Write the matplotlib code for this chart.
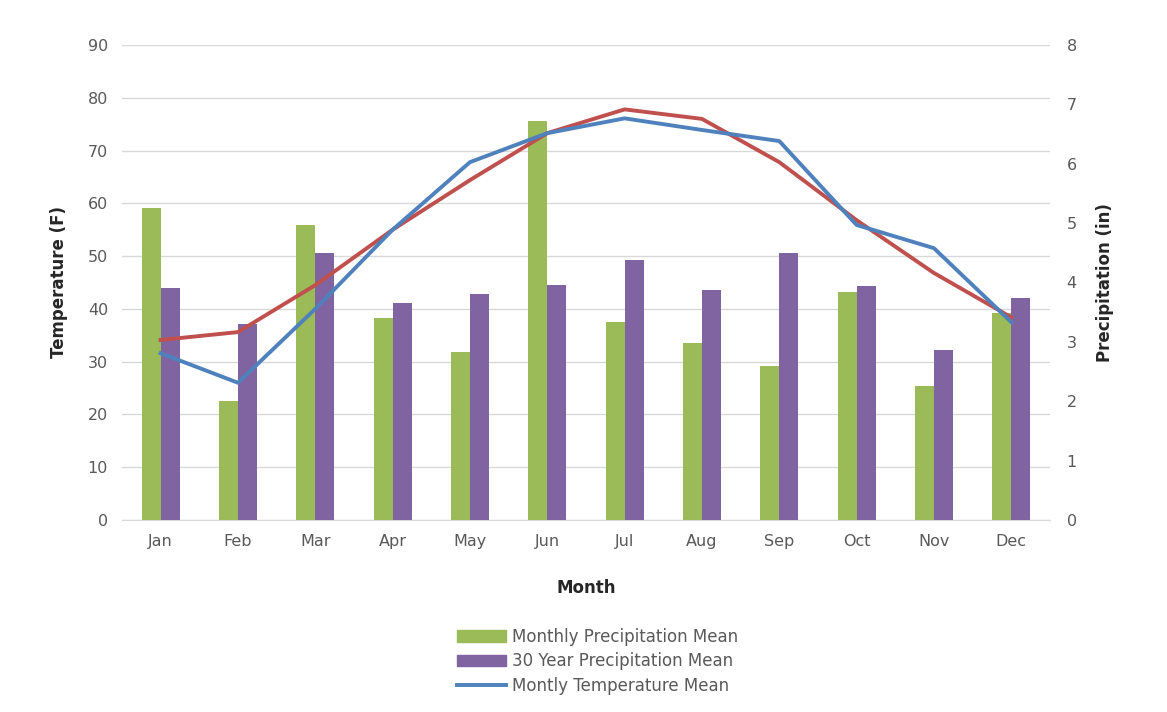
import matplotlib.pyplot as plt
from matplotlib.patches import Patch
from matplotlib.lines import Line2D
import numpy as np

# Data
months = ['Jan', 'Feb', 'Mar', 'Apr', 'May', 'Jun', 'Jul', 'Aug', 'Sep', 'Oct', 'Nov', 'Dec']
monthly_precip = [5.25, 2.0, 4.97, 3.4, 2.83, 6.72, 3.33, 2.98, 2.6, 3.84, 2.25, 3.48]
normal_precip = [3.9, 3.3, 4.5, 3.65, 3.8, 3.96, 4.38, 3.87, 4.5, 3.94, 2.86, 3.74]
monthly_temp = [31.6, 26.0, 40.0, 55.0, 67.8, 73.3, 76.1, 73.9, 71.8, 55.9, 51.5, 37.5]
normal_temp = [34.1, 35.6, 44.5, 55.0, 64.4, 73.3, 77.8, 76.0, 67.8, 56.8, 46.8, 38.4]

green = '#9BBB59'
purple = '#8064A2'
blue = '#4F81BD'
red = '#C0504D'
grey_txt = '#595959'
grid_col = '#D9D9D9'

x = np.arange(len(months))
w = 0.245

fig = plt.figure(figsize=(11.67, 7.12), dpi=100)
ax = fig.add_axes([0.1045, 0.2697, 0.7952, 0.6671])

# base axis: temperature ticks + grid
ax.set_ylim(0, 90)
ax.set_yticks(range(0, 91, 10))
ax.set_xlim(-0.5, len(months) - 0.5)
ax.set_xticks(x)
ax.set_xticklabels(months)
ax.grid(axis='y', color=grid_col, linewidth=1)
ax.set_axisbelow(True)
for s in ['top', 'right', 'left']:
    ax.spines[s].set_visible(False)
ax.spines['bottom'].set_color(grid_col)
ax.tick_params(length=0, colors=grey_txt, labelsize=11.5, pad=10)
ax.set_ylabel('Temperature (F)', fontsize=12, fontweight='bold', labelpad=14, color='#262626')
ax.set_xlabel('Month', fontsize=12, fontweight='bold', labelpad=22, color='#262626')

# precipitation bars on the right axis
ax2 = ax.twinx()
ax2.bar(x - w / 2, monthly_precip, width=w, color=green)
ax2.bar(x + w / 2, normal_precip, width=w, color=purple)
ax2.set_ylim(0, 8)
ax2.set_yticks(range(0, 9))
for s in ax2.spines.values():
    s.set_visible(False)
ax2.tick_params(length=0, colors=grey_txt, labelsize=11.5, pad=12)
ax2.set_ylabel('Precipitation (in)', fontsize=12, fontweight='bold', labelpad=14, color='#262626')

# temperature lines on top
ax3 = ax.twinx()
ax3.plot(x, normal_temp, color=red, linewidth=2.8)
ax3.plot(x, monthly_temp, color=blue, linewidth=2.8)
ax3.set_ylim(0, 90)
ax3.axis('off')

handles = [Patch(color=green, label='Monthly Precipitation Mean'),
           Patch(color=purple, label='30 Year Precipitation Mean'),
           Line2D([], [], color=blue, linewidth=2.8, label='Montly Temperature Mean')]
fig.legend(handles=handles, loc='upper center', bbox_to_anchor=(0.512, 0.13),
           frameon=False, fontsize=12, labelcolor=grey_txt, handlelength=2.9,
           handletextpad=0.35, labelspacing=0.4, borderpad=0)

fig.savefig('out.png', dpi=100)
